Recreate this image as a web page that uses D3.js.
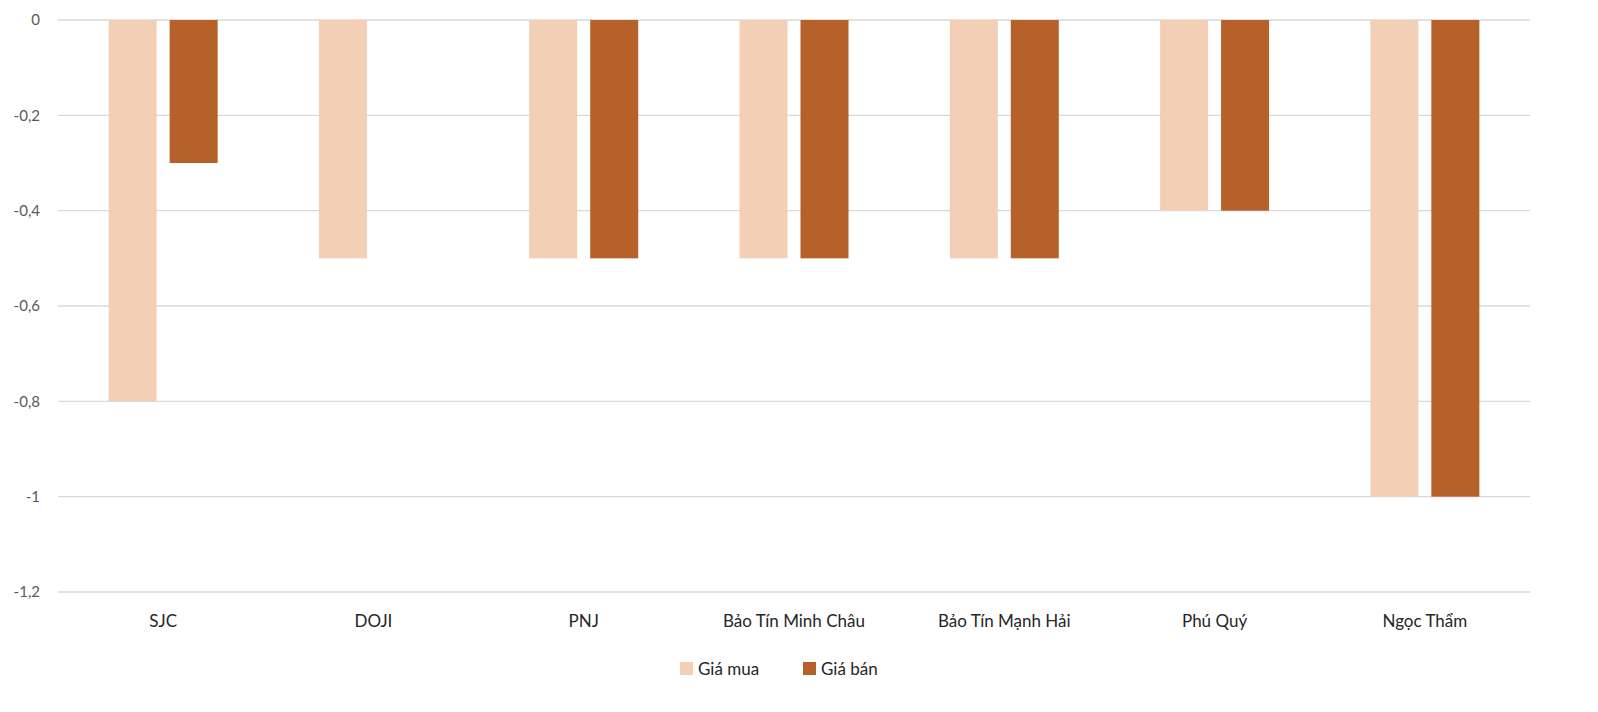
<!DOCTYPE html>
<html><head><meta charset="utf-8">
<script src="https://cdn.jsdelivr.net/npm/d3@7"></script>
<style>body{margin:0;background:#fff}</style></head>
<body><svg id="c" width="1598" height="712"></svg>
<script>
const categories=["SJC","DOJI","PNJ","Bảo Tín Minh Châu","Bảo Tín Mạnh Hải","Phú Quý","Ngọc Thẩm"];
const seriesNames=["Giá mua","Giá bán"];
const giaMua=[-0.8,-0.5,-0.5,-0.5,-0.5,-0.4,-1];
const giaBan=[-0.3,0,-0.5,-0.5,-0.5,-0.4,-1];
const yTicks=[0,-0.2,-0.4,-0.6,-0.8,-1,-1.2];
const colors=["#F3D0B5","#B6602A"];
const svg=d3.select("#c");
const L=58,R=1530,T=20,B=592;
const y=d3.scaleLinear().domain([0,-1.2]).range([T,B]);
const x=d3.scaleBand().domain(categories).range([L,R]).padding(0);
const gw=109;
const xi=d3.scaleBand().domain(seriesNames).range([0,gw]).paddingInner(0.213).paddingOuter(0);
const fmt=v=>String(v).replace(".",",");
svg.append("g").selectAll("line").data(yTicks).join("line")
 .attr("x1",L).attr("x2",R).attr("y1",d=>y(d)).attr("y2",d=>y(d))
 .attr("stroke","#d9d9d9").attr("stroke-width",1.3);
svg.append("g").selectAll("text").data(yTicks).join("text")
 .attr("x",40).attr("y",d=>y(d)).attr("dy","0.35em").attr("text-anchor","end")
 .attr("font-family","Lato, sans-serif").attr("font-size",15).attr("fill","#595959").text(fmt);
const vals=[giaMua,giaBan];
seriesNames.forEach((s,si)=>{
 svg.append("g").selectAll("rect").data(categories).join("rect")
  .attr("x",c=>x(c)+x.bandwidth()/2-gw/2+xi(s))
  .attr("width",xi.bandwidth())
  .attr("y",(c,i)=>y(Math.max(0,vals[si][i])))
  .attr("height",(c,i)=>Math.abs(y(vals[si][i])-y(0)))
  .attr("fill",colors[si]);
});
svg.append("g").selectAll("text").data(categories).join("text")
 .attr("x",c=>x(c)+x.bandwidth()/2).attr("y",627).attr("text-anchor","middle")
 .attr("font-family","Lato, sans-serif").attr("font-size",17).attr("fill","#262626").text(c=>c);
const lg=svg.append("g");
const lx=[680,803];
seriesNames.forEach((s,i)=>{
 lg.append("rect").attr("x",lx[i]).attr("y",662).attr("width",13).attr("height",13).attr("fill",colors[i]);
 lg.append("text").attr("x",lx[i]+18).attr("y",669).attr("dy","0.35em")
  .attr("font-family","Lato, sans-serif").attr("font-size",17).attr("fill","#262626").text(s);
});
</script></body></html>
